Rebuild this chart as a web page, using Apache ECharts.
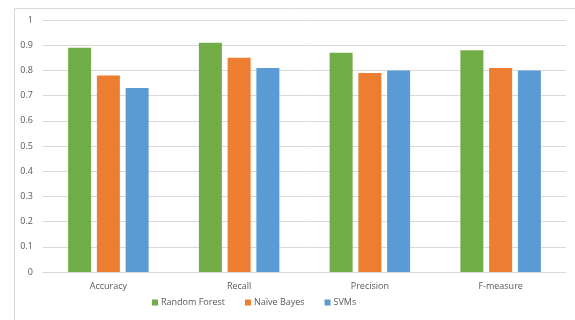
<!DOCTYPE html>
<html>
<head>
<meta charset="utf-8">
<script src="https://cdn.jsdelivr.net/npm/echarts@6/dist/echarts.min.js"></script>
<style>
  html, body { margin: 0; padding: 0; background: #fff; }
  #chart { width: 575px; height: 320px; }
</style>
</head>
<body>
<div id="chart"></div>
<script>
// Classifier comparison across four evaluation metrics
const categories = ['Accuracy', 'Recall', 'Precision', 'F-measure'];
const randomForest = [0.89, 0.91, 0.87, 0.88];
const naiveBayes = [0.78, 0.85, 0.79, 0.81];
const svms = [0.73, 0.81, 0.80, 0.80];
const yTicks = { min: 0, max: 1, interval: 0.1 };

const textColor = '#595959';
const fontFamily = 'Open Sans, Liberation Sans, sans-serif';

const chart = echarts.init(document.getElementById('chart'), null, { renderer: 'canvas' });

function barSeries(name, data, color) {
  return {
    name: name,
    type: 'bar',
    data: data,
    barWidth: 23,
    barGap: '25%',
    itemStyle: { color: color },
    emphasis: { disabled: true }
  };
}

chart.setOption({
  animation: false,
  textStyle: { fontFamily: fontFamily },
  graphic: [{
    type: 'rect',
    shape: { x: 14.5, y: 8.5, width: 700, height: 400 },
    style: { fill: 'none', stroke: '#d9d9d9', lineWidth: 1 },
    silent: true
  }],
  grid: { left: 43, right: 9, top: 20, bottom: 48 },
  legend: {
    left: 152,
    top: 298,
    padding: 0,
    itemWidth: 6,
    itemHeight: 6,
    itemGap: 20,
    icon: 'rect',
    textStyle: { color: textColor, fontSize: 9, fontFamily: fontFamily, padding: [0, 0, 0, -2] },
    data: ['Random Forest', 'Naïve Bayes', 'SVMs']
  },
  xAxis: {
    type: 'category',
    data: categories,
    axisLine: { lineStyle: { color: '#d9d9d9' } },
    axisTick: { show: false },
    axisLabel: { color: textColor, fontSize: 9, margin: 10 }
  },
  yAxis: {
    type: 'value',
    min: yTicks.min,
    max: yTicks.max,
    interval: yTicks.interval,
    axisLine: { show: false },
    axisTick: { show: false },
    axisLabel: { color: textColor, fontSize: 9, margin: 10 },
    splitLine: { lineStyle: { color: '#d9d9d9' } }
  },
  series: [
    barSeries('Random Forest', randomForest, '#70ad47'),
    barSeries('Naïve Bayes', naiveBayes, '#ed7d31'),
    barSeries('SVMs', svms, '#5b9bd5')
  ]
});
</script>
</body>
</html>
